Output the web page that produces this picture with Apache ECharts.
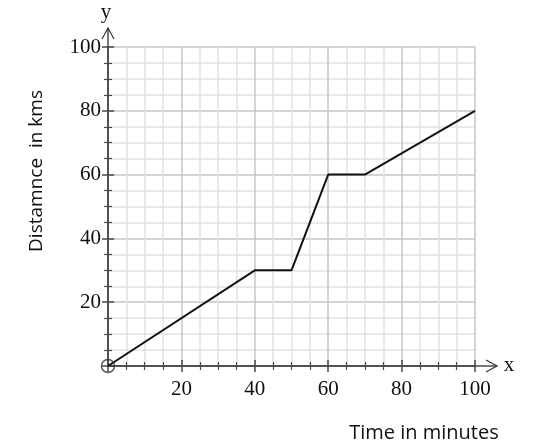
<!DOCTYPE html>
<html>
<head>
<meta charset="utf-8">
<script src="https://cdn.jsdelivr.net/npm/echarts@6/dist/echarts.min.js"></script>
<style>html,body{margin:0;padding:0;background:#fff}#c{width:533px;height:447px}</style>
</head>
<body>
<div id="c"></div>
<script>
var timeMinutes = [0, 40, 50, 60, 70, 100];
var distanceKms = [0, 30, 30, 60, 60, 80];
var xTicks = [20, 40, 60, 80, 100];
var yTicks = [20, 40, 60, 80, 100];

var chart = echarts.init(document.getElementById('c'));
var serif = '"Liberation Serif", "DejaVu Serif", serif';
var sans = '"Open Sans", "Noto Sans", sans-serif';
var axisColor = '#4a4a4a';

function showLabel(ticks) {
  return function (v) { return ticks.indexOf(v) >= 0 ? String(v) : ''; };
}

function baseAxis(ticks, withGrid, inside, position) {
  return {
    type: 'value', min: 0, max: 100, interval: 20, position: position,
    axisLine: { show: true, onZero: false, lineStyle: { color: axisColor, width: 1.5 } },
    axisTick: { show: true, inside: inside, length: 6, lineStyle: { color: axisColor, width: 1.5 } },
    minorTick: { show: true, splitNumber: 4, length: 4, lineStyle: { color: axisColor, width: 1.2 } },
    axisLabel: withGrid ? { show: true, formatter: showLabel(ticks), fontFamily: serif, fontSize: 21, color: '#111' } : { show: false },
    splitLine: { show: withGrid, lineStyle: { color: '#c4c4c4', width: 1.5 } },
    minorSplitLine: { show: withGrid, lineStyle: { color: '#e2e2e2', width: 1.5 } }
  };
}

var x0 = baseAxis(xTicks, true, false, 'bottom'); x0.axisLabel.margin = 13;
var x1 = baseAxis(xTicks, false, true, 'bottom');
var y0 = baseAxis(yTicks, true, false, 'left'); y0.axisLabel.margin = 7;
var y1 = baseAxis(yTicks, false, true, 'left');

var lineData = timeMinutes.map(function (t, i) { return [t, distanceKms[i]]; });

chart.setOption({
  animation: false,
  grid: { left: 108, right: 58, top: 47, bottom: 81 },
  xAxis: [x0, x1],
  yAxis: [y0, y1],
  series: [
    { type: 'line', data: lineData, showSymbol: false, symbol: 'none',
      lineStyle: { color: '#111', width: 2 }, z: 5 },
    { type: 'scatter', data: [[0, 0]], symbol: 'circle', symbolSize: 13,
      itemStyle: { color: 'rgba(0,0,0,0)', borderColor: '#333', borderWidth: 1.5 }, z: 6 }
  ]
});

var o = chart.convertToPixel({ gridIndex: 0 }, [0, 0]);
var top100 = chart.convertToPixel({ gridIndex: 0 }, [100, 100]);
var yEnd = top100[1] - 19;
var xEnd = top100[0] + 22;
chart.setOption({
  graphic: [
    { type: 'polyline', shape: { points: [[o[0], top100[1]], [o[0], yEnd]] }, style: { stroke: axisColor, lineWidth: 1.5 } },
    { type: 'polyline', shape: { points: [[o[0] - 6, yEnd + 11], [o[0], yEnd], [o[0] + 6, yEnd + 11]] }, style: { stroke: '#333', lineWidth: 1.2, fill: null } },
    { type: 'polyline', shape: { points: [[top100[0], o[1]], [xEnd, o[1]]] }, style: { stroke: axisColor, lineWidth: 1.5 } },
    { type: 'polyline', shape: { points: [[xEnd - 11, o[1] - 6], [xEnd, o[1]], [xEnd - 11, o[1] + 6]] }, style: { stroke: '#333', lineWidth: 1.2, fill: null } },
    { type: 'text', x: o[0] - 2, y: yEnd - 16, style: { text: 'y', font: '21px ' + serif, fill: '#111', textAlign: 'center', textVerticalAlign: 'middle' } },
    { type: 'text', x: xEnd + 12, y: o[1] - 1, style: { text: 'x', font: '21px ' + serif, fill: '#111', textAlign: 'center', textVerticalAlign: 'middle' } },
    { type: 'text', x: 37, y: 171, rotation: Math.PI / 2, style: { text: 'Distamnce  in kms', font: '19px ' + sans, fill: '#111', textAlign: 'center', textVerticalAlign: 'middle' } },
    { type: 'text', x: 424, y: 433, style: { text: 'Time in minutes', font: '20px ' + sans, fill: '#111', textAlign: 'center', textVerticalAlign: 'middle' } }
  ]
});
</script>
</body>
</html>
